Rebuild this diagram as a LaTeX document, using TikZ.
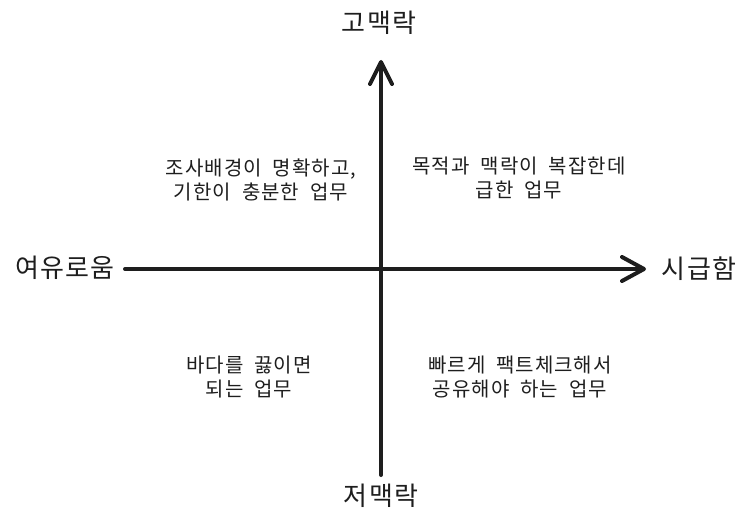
\documentclass[tikz,border=0pt]{standalone}
\usepackage{fontspec}
\setmainfont{Noto Sans CJK KR}
\newfontfamily\spacedkr[LetterSpace=5,WordSpace=2]{Noto Sans CJK KR}
\usetikzlibrary{arrows.meta}
\definecolor{ink}{HTML}{1E1E1E}

\begin{document}
\begin{tikzpicture}[x=1pt,y=-1pt,
  axis/.style={ink, line width=4, line cap=round},
  pole/.style={ink, inner sep=0, font={\spacedkr\fontsize{26pt}{30pt}\selectfont}},
  quad/.style={ink, inner sep=0, align=center, font={\spacedkr\fontsize{20pt}{24.5pt}\selectfont}}
  ]
  \useasboundingbox (0,0) rectangle (749,527);
  \coordinate (west) at (125,269);
  \coordinate (east) at (646,269);
  \coordinate (south) at (381,475);
  \coordinate (north) at (381,60);

  % axes
  \draw[axis, arrows={-{Straight Barb[length=22,width=24,round]}}] (west) -- (east);
  \draw[axis, arrows={-{Straight Barb[length=22,width=22,round]}}] (south) -- (north);

  % axis labels
  \node[pole] (highctx) at (379,23) {고맥락};
  \node[pole] (lowctx) at (381,496) {저맥락};
  \node[pole] (relaxed) at (65,268) {여유로움};
  \node[pole] (urgent) at (699,269) {시급함};

  % quadrants
  \node[quad] (topleft) at (261,180) {조사배경이 명확하고,\\기한이 충분한 업무};
  \node[quad] (topright) at (519,178) {목적과 맥락이 복잡한데\\급한 업무};
  \node[quad] (botleft) at (249,377) {바다를 끓이면\\되는 업무};
  \node[quad] (botright) at (520,377) {빠르게 팩트체크해서\\공유해야 하는 업무};
\end{tikzpicture}
\end{document}
